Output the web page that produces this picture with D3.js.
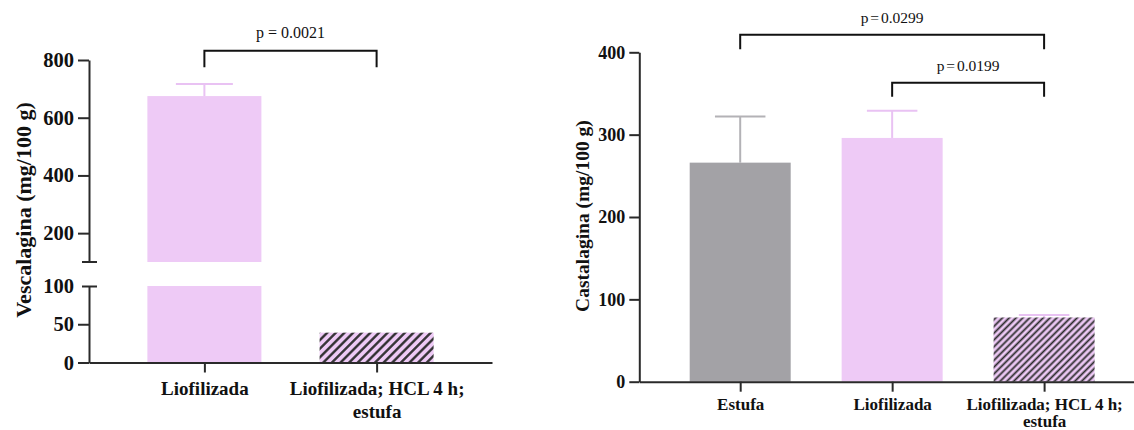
<!DOCTYPE html>
<html>
<head>
<meta charset="utf-8">
<script src="https://cdn.jsdelivr.net/npm/d3@7"></script>
<style>
  html, body { margin: 0; padding: 0; background: #fff; }
  svg { display: block; }
  text { font-family: "Liberation Serif", "Times New Roman", serif; fill: #111; }
</style>
</head>
<body>
<script>
// ---- Vescalagina panel ----
const vescCategories = ["Liofilizada", "Liofilizada; HCL 4 h;\nestufa"];
const vescMeans = [675, 39];
const vescSD = [42, 0];
const vescUpperTicks = [200, 400, 600, 800];
const vescLowerTicks = [0, 50, 100];
const vescComparisons = [[0, 1]];
const vescPLabels = ["p = 0.0021"];

// ---- Castalagina panel ----
const castCategories = ["Estufa", "Liofilizada", "Liofilizada; HCL 4 h;\nestufa"];
const castMeans = [266, 296, 78];
const castSD = [56, 33, 3];
const castTicks = [0, 100, 200, 300, 400];
const castComparisons = [[0, 2], [1, 2]];
const castPLabels = ["p = 0.0299", "p = 0.0199"];

const PINK = "#EECAF6";
const GREY = "#A3A2A6";
const AXIS = "#2a2a2a";

const svg = d3.select("body").append("svg")
  .attr("width", 1134).attr("height", 430);

const defs = svg.append("defs");
function hatch(id, spacing, width) {
  const p = defs.append("pattern")
    .attr("id", id)
    .attr("patternUnits", "userSpaceOnUse")
    .attr("width", spacing).attr("height", spacing)
    .attr("patternTransform", "rotate(45)");
  p.append("rect").attr("width", spacing).attr("height", spacing).attr("fill", PINK);
  p.append("line")
    .attr("x1", spacing / 2).attr("x2", spacing / 2)
    .attr("y1", -1).attr("y2", spacing + 1)
    .attr("stroke", "#2b2b2b").attr("stroke-width", width);
}
hatch("hatchL", 6.1, 2.3);
hatch("hatchR", 4.8, 1.8);

function styleAxis(g, fontSize) {
  g.attr("font-family", null).attr("font-size", null);
  g.selectAll(".domain").attr("stroke", AXIS).attr("stroke-width", 2);
  g.selectAll(".tick line").attr("stroke", AXIS).attr("stroke-width", 2);
  g.selectAll(".tick text")
    .style("font-size", fontSize + "px")
    .style("font-weight", "bold")
    .attr("fill", "#111");
}

function categoryLabels(g, size, first, lineGap) {
  g.selectAll(".tick text").each(function (d) {
    const t = d3.select(this).text("").attr("dy", null).attr("y", first)
      .style("font-size", size + "px").style("font-weight", "bold");
    d.split("\n").forEach((line, i) => {
      t.append("tspan").attr("x", 0).attr("y", first + i * lineGap).text(line);
    });
  });
}

function bracket(g, x1, x2, top, drop, label, textY, fontSize, wordSpacing) {
  g.append("path")
    .attr("d", `M${x1},${top + drop}V${top}H${x2}V${top + drop}`)
    .attr("fill", "none").attr("stroke", "#111").attr("stroke-width", 2);
  g.append("text")
    .attr("x", (x1 + x2) / 2).attr("y", textY)
    .attr("text-anchor", "middle")
    .style("font-size", fontSize + "px")
    .style("word-spacing", wordSpacing + "px")
    .text(label);
}

// ================= Left panel: Vescalagina (broken axis) =================
{
  const g = svg.append("g");
  const axisX = 89;
  const x = d3.scalePoint().domain(vescCategories).range([axisX, 492]).padding(0.67);
  const bw = 114;
  const yUp = d3.scaleLinear().domain([100, 800]).range([262, 60]);
  const yLo = d3.scaleLinear().domain([0, 100]).range([362.5, 286]);
  const fills = [PINK, "url(#hatchL)"];

  vescMeans.forEach((v, i) => {
    const cx = x(vescCategories[i]);
    const bar = g.append("g");
    if (v > 100) {
      bar.append("rect").attr("x", cx - bw / 2).attr("width", bw)
        .attr("y", yUp(v)).attr("height", yUp(100) - yUp(v)).attr("fill", fills[i]);
      bar.append("rect").attr("x", cx - bw / 2).attr("width", bw)
        .attr("y", yLo(100)).attr("height", yLo(0) - yLo(100)).attr("fill", fills[i]);
    } else {
      bar.append("rect").attr("x", cx - bw / 2).attr("width", bw)
        .attr("y", yLo(v)).attr("height", yLo(0) - yLo(v)).attr("fill", fills[i]);
    }
    if (vescSD[i] > 0) {
      const ys = v > 100 ? yUp : yLo;
      const top = ys(v + vescSD[i]);
      bar.append("line").attr("x1", cx).attr("x2", cx)
        .attr("y1", ys(v)).attr("y2", top)
        .attr("stroke", "#E9C2F3").attr("stroke-width", 2);
      bar.append("line").attr("x1", cx - bw / 4).attr("x2", cx + bw / 4)
        .attr("y1", top).attr("y2", top)
        .attr("stroke", "#E9C2F3").attr("stroke-width", 2);
    }
  });

  const up = g.append("g").attr("transform", `translate(${axisX},0)`)
    .call(d3.axisLeft(yUp).tickValues(vescUpperTicks).tickSize(11).tickSizeOuter(0).tickPadding(4));
  styleAxis(up, 20.5);
  const lo = g.append("g").attr("transform", `translate(${axisX},0)`)
    .call(d3.axisLeft(yLo).tickValues(vescLowerTicks).tickSize(11).tickSizeOuter(0).tickPadding(4));
  styleAxis(lo, 20.5);
  // caps marking the two ends of the axis break
  lo.selectAll(".tick").filter(d => d === 100).select("line").attr("x1", 8).attr("x2", -7);
  up.append("line").attr("x1", -7).attr("x2", 8)
    .attr("y1", yUp(100)).attr("y2", yUp(100))
    .attr("stroke", AXIS).attr("stroke-width", 2);

  const xa = g.append("g").attr("transform", `translate(0,${yLo(0)})`)
    .call(d3.axisBottom(x).tickSize(10).tickSizeOuter(0));
  styleAxis(xa, 19);
  categoryLabels(xa, 19, 32.5, 22.5);

  g.append("text")
    .attr("transform", "translate(23,210) rotate(-90)")
    .attr("text-anchor", "middle").attr("dy", "0.35em")
    .style("font-size", "22px").style("font-weight", "bold")
    .text("Vescalagina (mg/100 g)");

  vescComparisons.forEach(([a, b], k) => {
    bracket(g, x(vescCategories[a]), x(vescCategories[b]), yUp(800) - 9.3, 16.6,
      vescPLabels[k], 38, 16, 0);
  });
}

// ================= Right panel: Castalagina =================
{
  const g = svg.append("g");
  const axisX = 639.3;
  const x = d3.scalePoint().domain(castCategories).range([axisX, 1145]).padding(0.664);
  const bw = 101;
  const y = d3.scaleLinear().domain([0, 400]).range([381.7, 52.3]);
  const fills = [GREY, PINK, "url(#hatchR)"];
  const errColors = ["#B3B2B6", "#E9C2F3", "#E9C2F3"];

  castMeans.forEach((v, i) => {
    const cx = x(castCategories[i]);
    const top = y(v + castSD[i]);
    g.append("line").attr("x1", cx).attr("x2", cx)
      .attr("y1", y(v)).attr("y2", top)
      .attr("stroke", errColors[i]).attr("stroke-width", 2);
    g.append("line").attr("x1", cx - bw / 4).attr("x2", cx + bw / 4)
      .attr("y1", top).attr("y2", top)
      .attr("stroke", errColors[i]).attr("stroke-width", 2);
    g.append("rect").attr("x", cx - bw / 2).attr("width", bw)
      .attr("y", y(v)).attr("height", y(0) - y(v)).attr("fill", fills[i]);
  });

  const ya = g.append("g").attr("transform", `translate(${axisX},0)`)
    .call(d3.axisLeft(y).tickValues(castTicks).tickSize(10).tickSizeOuter(0).tickPadding(4));
  styleAxis(ya, 18);

  const xa = g.append("g").attr("transform", `translate(0,${y(0)})`)
    .call(d3.axisBottom(x).tickSize(10).tickSizeOuter(0));
  styleAxis(xa, 17);
  categoryLabels(xa, 17, 28, 17.5);

  g.append("text")
    .attr("transform", "translate(582,216) rotate(-90)")
    .attr("text-anchor", "middle").attr("dy", "0.35em")
    .style("font-size", "19.5px").style("font-weight", "bold")
    .text("Castalagina (mg/100 g)");

  const levels = [{ top: 34.7, drop: 14.6, text: 23 }, { top: 82.7, drop: 14, text: 70.7 }];
  castComparisons.forEach(([a, b], k) => {
    bracket(g, x(castCategories[a]), x(castCategories[b]), levels[k].top, levels[k].drop,
      castPLabels[k], levels[k].text, 15.5, -2);
  });
}
</script>
</body>
</html>
